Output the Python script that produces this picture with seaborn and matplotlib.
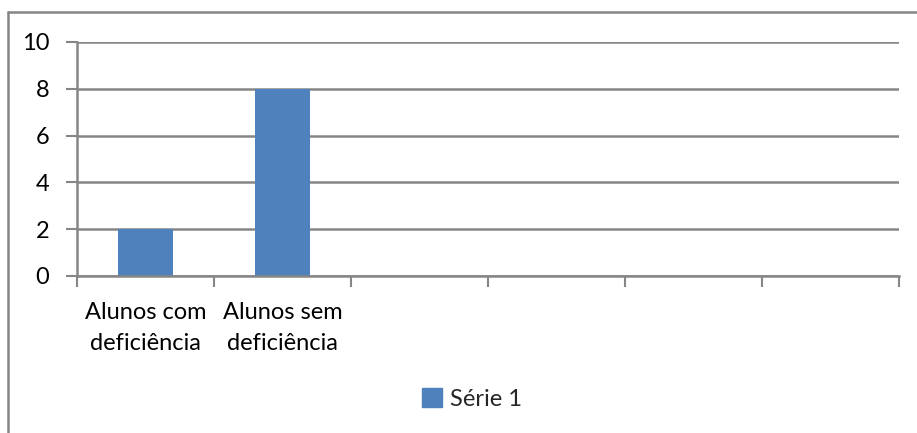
import numpy as np
import pandas as pd
import seaborn as sns
import matplotlib.pyplot as plt
from matplotlib.lines import Line2D
from matplotlib.patches import Patch

categories = ["Alunos com\ndeficiência", "Alunos sem\ndeficiência"]
values = [2, 8]
series_name = "Série 1"
n_slots = 6
yticks = [0, 2, 4, 6, 8, 10]

df = pd.DataFrame({"cat": categories, "val": values, "serie": series_name})

sns.set_theme(style="white")
plt.rcParams["font.family"] = ["Lato", "DejaVu Sans"]

grid_col = "#868686"
bar_col = "#4f81bd"
fs = 17

fig = plt.figure(figsize=(9.17, 4.33), dpi=100)
ax = fig.add_axes([77 / 917, 1 - 276 / 433, (899 - 77) / 917, (276 - 42) / 433])

sns.barplot(data=df, x="cat", y="val", hue="serie", palette=[bar_col],
            width=0.4, ax=ax, legend=False, saturation=1, linewidth=0)

ax.set_xlim(-0.5, n_slots - 0.5)
ax.set_ylim(0, 10)
ax.set_yticks(yticks)
ax.set_yticklabels([str(t) for t in yticks], fontsize=fs, color="black")
ax.set_xlabel("")
ax.set_ylabel("")
ax.set_xticks(range(len(categories)))
ax.set_xticklabels(categories, fontsize=fs, color="black", linespacing=1.55)
ax.set_xticks(np.arange(-0.5, n_slots, 1), minor=True)
ax.tick_params(axis="x", which="major", bottom=True, length=0, pad=19)
ax.tick_params(axis="x", which="minor", bottom=True, length=8, width=1.5,
               color=grid_col, direction="out")
ax.tick_params(axis="y", left=True, length=8, width=1.5, color=grid_col,
               direction="out", pad=12)

ax.yaxis.grid(True, color=grid_col, linewidth=1.8)
ax.set_axisbelow(True)
for s in ["top", "right"]:
    ax.spines[s].set_visible(False)
for s in ["left", "bottom"]:
    ax.spines[s].set_color(grid_col)
    ax.spines[s].set_linewidth(1.8)

# legend below the plot
fig.legend(handles=[Patch(color=bar_col, label=series_name)],
           loc="center", bbox_to_anchor=(472 / 917, 1 - 399 / 433),
           frameon=False, fontsize=fs, handlelength=0.85, handleheight=0.85,
           handletextpad=0.3)

# outer chart border (top and left only, rest is cropped)
fig.add_artist(Line2D([8 / 917, 1], [1 - 12 / 433, 1 - 12 / 433], color=grid_col, lw=1.8))
fig.add_artist(Line2D([8 / 917, 8 / 917], [0, 1 - 12 / 433], color=grid_col, lw=1.8))

fig.savefig("out.png", dpi=100, facecolor="white")
